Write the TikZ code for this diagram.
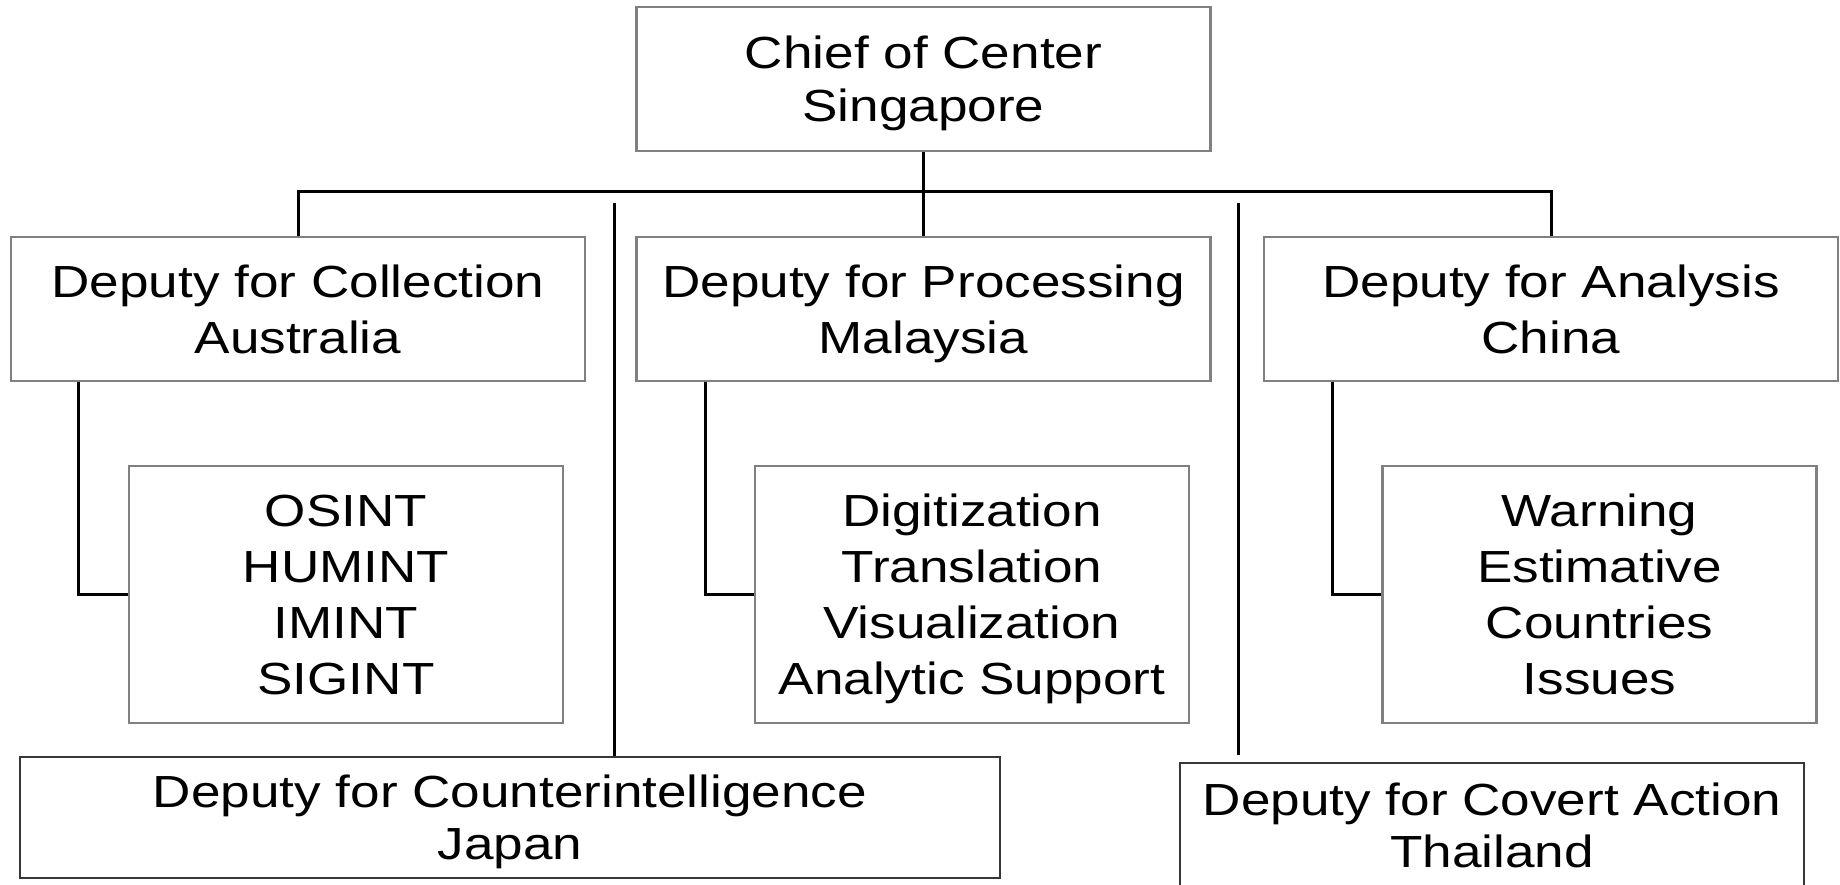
\documentclass[tikz,border=0pt]{standalone}
\usepackage{fontspec}
\setmainfont{Liberation Sans}[FakeStretch=1.18]
\definecolor{boxgray}{RGB}{128,128,128}
\definecolor{lowgray}{RGB}{55,55,55}
\newcommand{\orgtext}{\fontsize{45}{56}\selectfont}
\newcommand{\lowtext}{\fontsize{45}{52}\selectfont}
\tikzstyle{headbox} = [rectangle, draw = boxgray, line width = 2.7pt, inner sep = 0pt, text depth = 0pt, minimum width = 574pt, minimum height = 144pt, align = center, font = \orgtext]
\tikzstyle{subbox} = [headbox, minimum width = 434pt, minimum height = 257pt]
\tikzstyle{lowbox} = [rectangle, draw = lowgray, line width = 2pt, inner sep = 0pt, text depth = 0pt, minimum height = 121pt, align = center, font = \lowtext]
\tikzstyle{link} = [line width = 3pt, black]

\begin{document}
\begin{tikzpicture}[x = 1pt, y = -1pt]
			\useasboundingbox (0,0) rectangle (1840,885);
			\clip (0,0) rectangle (1840,885);
			\node[headbox] (process) at (923.5,309) {Deputy for Processing\\Malaysia};
			\node[headbox, font = \fontsize{45}{53}\selectfont, node distance = 230pt, above of = process] (chief) {Chief of Center\\Singapore};
			\node[headbox, node distance = 625.5pt, left of = process] (collect) {Deputy for Collection\\Australia};
			\node[headbox, node distance = 627.5pt, right of = process] (analyse) {Deputy for Analysis\\China};
			\node[subbox, node distance = 285.5pt, below of = collect, xshift = 48pt] (osint) {OSINT\\HUMINT\\IMINT\\SIGINT};
			\node[subbox, node distance = 285.5pt, below of = process, xshift = 48.5pt] (digit) {Digitization\\Translation\\Visualization\\Analytic Support};
			\node[subbox, node distance = 285.5pt, below of = analyse, xshift = 48.5pt] (warn) {Warning\\Estimative\\Countries\\Issues};
			\node[lowbox, minimum width = 980pt, node distance = 508.5pt, below of = collect, xshift = 212pt] (counter) {Deputy for Counterintelligence\\Japan};
			\node[lowbox, minimum width = 624pt, minimum height = 125pt, node distance = 516.5pt, below of = analyse, xshift = -59pt] (covert) {Deputy for Covert Action\\Thailand};
			\coordinate (citop) at (614,203);
			\coordinate (catop) at (1238,203);
			\draw[link] (chief.south) -- (process.north);
			\draw[link] (collect.north) -- ++(0,-44) -| (analyse.north);
			\draw[link] (citop) -- (citop |- counter.north);
			\draw[link, shorten > = 7pt] (catop) -- (catop |- covert.north);
			\draw[link] (collect.south west) ++(69,0) |- (osint.west);
			\draw[link] (process.south west) ++(70,0) |- (digit.west);
			\draw[link] (analyse.south west) ++(70,0) |- (warn.west);
		\end{tikzpicture}
\end{document}
